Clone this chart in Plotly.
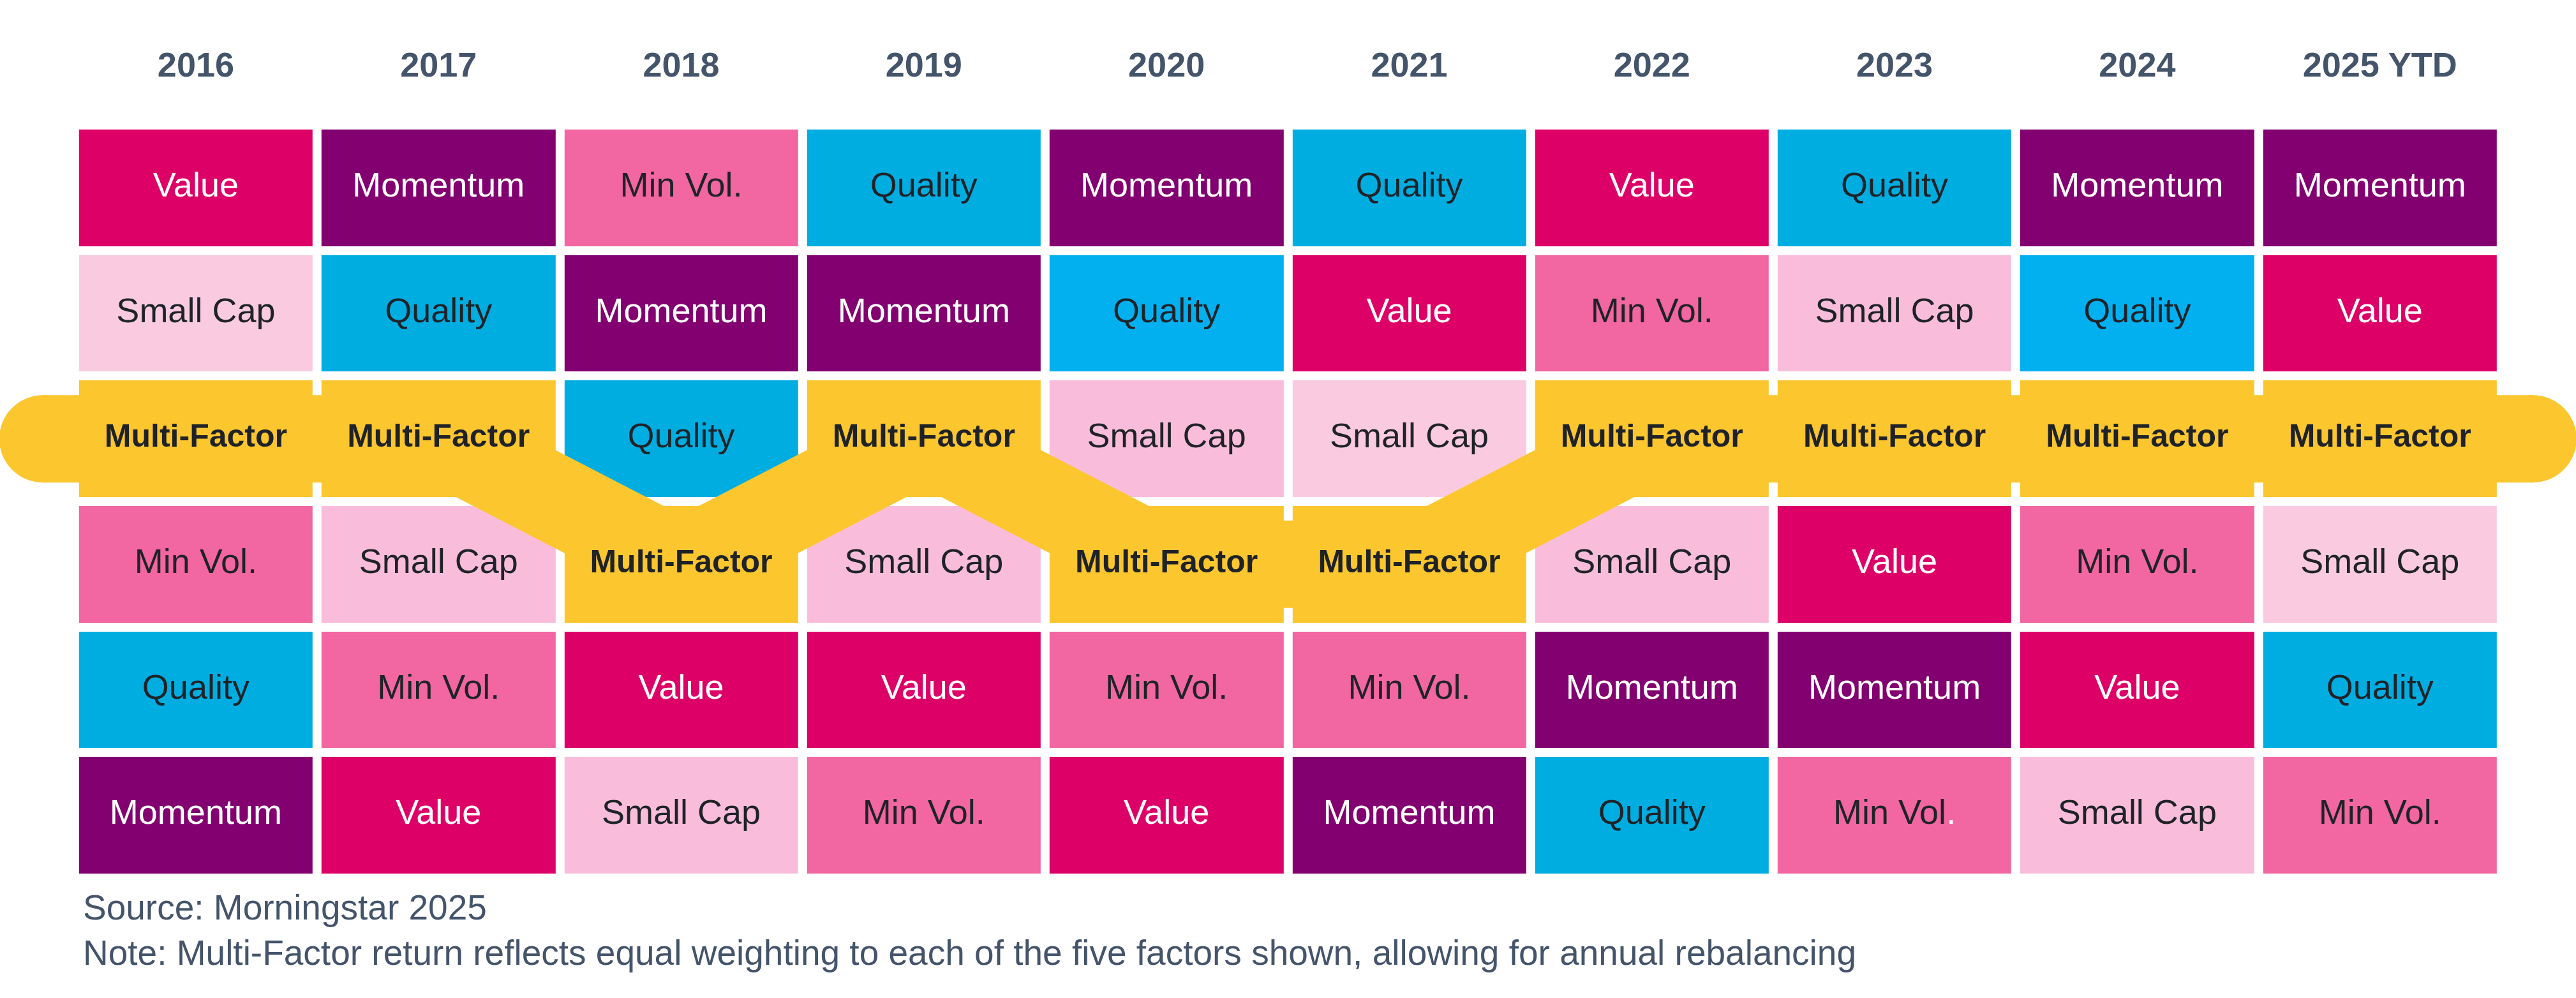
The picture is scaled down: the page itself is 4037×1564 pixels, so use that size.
import plotly.graph_objects as go

# ---------------- data ----------------
YEARS = ["2016", "2017", "2018", "2019", "2020", "2021", "2022", "2023", "2024", "2025 YTD"]

# factor ranking per year, best (top) to worst (bottom)
RANK_2016 = ["Value", "Small Cap", "Multi-Factor", "Min Vol.", "Quality", "Momentum"]
RANK_2017 = ["Momentum", "Quality", "Multi-Factor", "Small Cap", "Min Vol.", "Value"]
RANK_2018 = ["Min Vol.", "Momentum", "Quality", "Multi-Factor", "Value", "Small Cap"]
RANK_2019 = ["Quality", "Momentum", "Multi-Factor", "Small Cap", "Value", "Min Vol."]
RANK_2020 = ["Momentum", "Quality", "Small Cap", "Multi-Factor", "Min Vol.", "Value"]
RANK_2021 = ["Quality", "Value", "Small Cap", "Multi-Factor", "Min Vol.", "Momentum"]
RANK_2022 = ["Value", "Min Vol.", "Multi-Factor", "Small Cap", "Momentum", "Quality"]
RANK_2023 = ["Quality", "Small Cap", "Multi-Factor", "Value", "Momentum", "Min Vol."]
RANK_2024 = ["Momentum", "Quality", "Multi-Factor", "Min Vol.", "Value", "Small Cap"]
RANK_2025 = ["Momentum", "Value", "Multi-Factor", "Small Cap", "Quality", "Min Vol."]
RANKINGS = [RANK_2016, RANK_2017, RANK_2018, RANK_2019, RANK_2020,
            RANK_2021, RANK_2022, RANK_2023, RANK_2024, RANK_2025]

SOURCE_TEXT = "Source: Morningstar 2025"
NOTE_TEXT = ("Note: Multi-Factor return reflects equal weighting to each of the five factors shown, "
             "allowing for annual rebalancing")

# ---------------- styles ----------------
FONT = "Liberation Sans, Arial, sans-serif"
SLATE = "#44546A"
DARK_TEXT = "#1F2328"
FACTOR_COLORS = {
    "Value": "#DC0067",
    "Momentum": "#820070",
    "Min Vol.": "#F266A1",
    "Quality": "#00ADE1",
    "Small Cap": "#F9BDDB",
    "Multi-Factor": "#FCC62F",
}
ALT_COLORS = {"Quality": "#02B0F0", "Small Cap": "#FACBE0"}
ALT_CELLS = {("2020", "Quality"), ("2024", "Quality"),
             ("2016", "Small Cap"), ("2021", "Small Cap"), ("2025 YTD", "Small Cap")}
LIGHT_TEXT = {"Value", "Momentum"}
WHITE_DOT_CELLS = {("2023", "Min Vol.")}

n_cols = len(YEARS)
n_rows = len(RANKINGS[0])
cols = list(range(n_cols))
rows = list(range(1, n_rows + 1))

# ---------------- heatmap cells ----------------
def cell_color(year, factor):
    if (year, factor) in ALT_CELLS:
        return ALT_COLORS[factor]
    return FACTOR_COLORS[factor]

palette = []
z = []
for r in range(n_rows):
    zrow = []
    for c in range(n_cols):
        col = cell_color(YEARS[c], RANKINGS[c][r])
        if col not in palette:
            palette.append(col)
        zrow.append(palette.index(col))
    z.append(zrow)

N = len(palette)
colorscale = []
for k, col in enumerate(palette):
    colorscale.append([k / N, col])
    colorscale.append([(k + 1) / N, col])

fig = go.Figure()
fig.add_trace(go.Heatmap(
    x=cols, y=rows, z=z,
    colorscale=colorscale, zmin=-0.5, zmax=N - 0.5,
    showscale=False, xgap=14, ygap=14, hoverinfo="skip",
))

# ---------------- Multi-Factor ribbon ----------------
mf_rows = [rk.index("Multi-Factor") + 1 for rk in RANKINGS]
CAP_EXT = 0.63
band_x = [cols[0] - CAP_EXT] + cols + [cols[-1] + CAP_EXT]
band_y = [mf_rows[0]] + mf_rows + [mf_rows[-1]]
BAND_W = 137
fig.add_trace(go.Scatter(
    x=band_x, y=band_y, mode="lines+markers",
    line=dict(color=FACTOR_COLORS["Multi-Factor"], width=BAND_W),
    marker=dict(color=FACTOR_COLORS["Multi-Factor"], opacity=1,
                size=[BAND_W] + [0] * n_cols + [BAND_W], line=dict(width=0)),
    hoverinfo="skip", showlegend=False, cliponaxis=False,
))

# ---------------- cell labels ----------------
tx, ty, tt, tc, ts = [], [], [], [], []
for c in range(n_cols):
    for r in range(n_rows):
        f = RANKINGS[c][r]
        tx.append(cols[c])
        ty.append(rows[r])
        if f == "Multi-Factor":
            tt.append("<b>" + f + "</b>")
            ts.append(50)
        elif (YEARS[c], f) in WHITE_DOT_CELLS:
            tt.append(f[:-1] + "<span style='color:#FFFFFF'>.</span>")
            ts.append(54)
        else:
            tt.append(f)
            ts.append(54)
        tc.append("#FFFFFF" if f in LIGHT_TEXT else DARK_TEXT)

fig.add_trace(go.Scatter(
    x=tx, y=ty, text=tt, mode="text", textposition="middle center",
    textfont=dict(family=FONT, size=ts, color=tc),
    hoverinfo="skip", showlegend=False, cliponaxis=False,
))

# ---------------- layout ----------------
W, H = 4037, 1564
M_TOP, M_BOT = 196, 188
plot_h = H - M_TOP - M_BOT

fig.update_layout(
    width=W, height=H,
    margin=dict(l=0, r=0, t=M_TOP, b=M_BOT, pad=0),
    paper_bgcolor="white", plot_bgcolor="white",
    showlegend=False,
    font=dict(family=FONT, color=SLATE),
    xaxis=dict(
        range=[-0.807, 9.808], side="top",
        tickmode="array", tickvals=cols, ticktext=YEARS,
        tickfont=dict(family=FONT, size=54, color=SLATE, weight="bold"),
        ticks="", ticklabelstandoff=64,
        showgrid=False, zeroline=False, showline=False, fixedrange=True,
    ),
    yaxis=dict(
        range=[n_rows + 0.5, 0.5], visible=False,
        showgrid=False, zeroline=False, fixedrange=True,
    ),
)

def py(pix):
    return (H - M_BOT - pix) / plot_h

fig.add_annotation(text=SOURCE_TEXT, xref="paper", yref="paper",
                   x=128 / W, y=py(1422), xanchor="left", yanchor="middle",
                   showarrow=False, font=dict(family=FONT, size=55, color=SLATE))
fig.add_annotation(text=NOTE_TEXT, xref="paper", yref="paper",
                   x=128 / W, y=py(1493), xanchor="left", yanchor="middle",
                   showarrow=False, font=dict(family=FONT, size=55, color=SLATE))

fig.write_html("out.html", config={"displayModeBar": False},
               post_script="document.body.style.margin='0px';")
